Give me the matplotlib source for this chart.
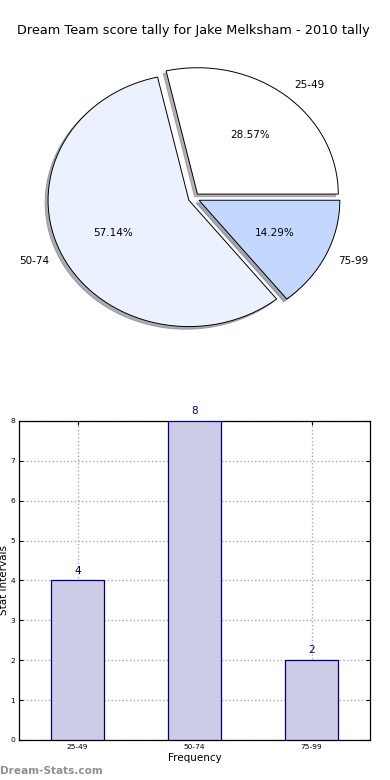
import matplotlib
matplotlib.use("Agg")
import matplotlib.pyplot as plt

title = "Dream Team score tally for Jake Melksham - 2010 tally"
categories = ["25-49", "50-74", "75-99"]
counts = [4, 8, 2]
pie_colors = ["#FFFFFF", "#EBF1FF", "#C4D8FF"]
explode = [0.04, 0.04, 0.04]
yticks = [0, 1, 2, 3, 4, 5, 6, 7, 8]

fig = plt.figure(figsize=(3.9, 7.8), dpi=100)

# Pie chart
axp = fig.add_axes([0.046, 0.5436, 0.9026, 0.405])
wedges, texts, autotexts = axp.pie(
    counts, labels=categories, colors=pie_colors, explode=explode,
    autopct="%.2f%%", startangle=0,
    shadow=dict(ox=-0.015, oy=-0.015, shade=0.5, alpha=0.6),
    wedgeprops=dict(edgecolor="black", linewidth=0.7),
    textprops=dict(fontsize=7.5))
axp.set_aspect("auto")
axp.set_xlim(-1.25, 1.25)
axp.set_ylim(-1.25, 1.25)
fig.text(0.495, 0.961, title, ha="center", va="center", fontsize=9.3)

# Bar chart
axb = fig.add_axes([0.0487, 0.0513, 0.9003, 0.409])
x = list(range(len(categories)))
axb.bar(x, counts, width=0.45, color=(204/255, 204/255, 230/255),
        edgecolor="navy", linewidth=0.9, zorder=3)
for xi, c in zip(x, counts):
    axb.text(xi, c + 0.12, str(c), ha="center", va="bottom",
             color="navy", fontsize=7.5, zorder=4)
axb.set_xlim(-0.5, 2.5)
axb.set_ylim(0, 8)
axb.set_xticks(x)
axb.set_xticklabels(categories)
axb.set_yticks(yticks)
axb.tick_params(labelsize=5.4, direction="in", length=3, top=True, right=True, pad=3)
axb.grid(True, linestyle=":", color="#aaaaaa", linewidth=1, zorder=0)
axb.set_axisbelow(True)
axb.set_xlabel("Frequency", fontsize=7.5, labelpad=2)
axb.set_ylabel("Stat Intervals", fontsize=7.5, labelpad=1)
for s in axb.spines.values():
    s.set_linewidth(0.9)

fig.text(0.0, 0.012, "Dream-Stats.com", ha="left", va="center",
         color="#909090", fontsize=7.6, fontweight="bold")

fig.savefig("out.png", dpi=100)
